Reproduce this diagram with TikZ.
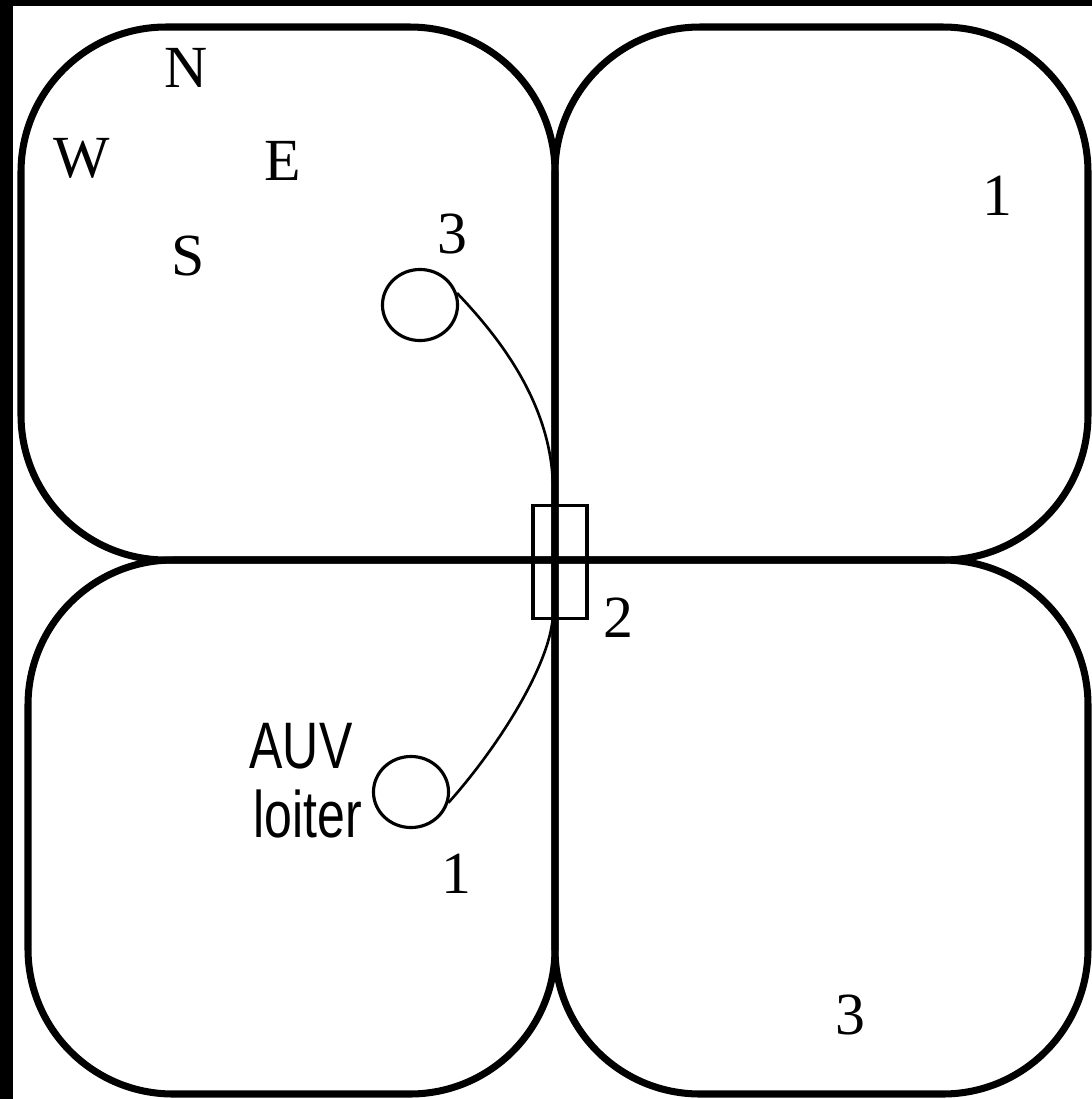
\documentclass[tikz,border=0pt]{standalone}
\usepackage{fontspec}
\setmainfont{Liberation Serif}
\newfontfamily\auvfont[FakeStretch=0.76]{Liberation Sans}
\usetikzlibrary{shapes.geometric}
\tikzset{
  cell/.style={draw=black, line width=2pt, rounded corners=1.45cm},
  gate/.style={draw=black, line width=0.9pt, minimum width=0.54cm, minimum height=1.13cm, inner sep=0pt},
  loiter/.style={ellipse, draw=black, line width=0.9pt, minimum width=0.75cm, minimum height=0.71cm, inner sep=0pt},
  track/.style={draw=black, line width=0.75pt},
  lbl/.style={font=\fontsize{17}{20}\selectfont, inner sep=0pt, anchor=base},
  note/.style={font=\auvfont\fontsize{18.7}{22}\selectfont, inner sep=0pt, anchor=base},
}

\begin{document}
\begin{tikzpicture}[x=0.01cm, y=-0.01cm]
  \useasboundingbox (0,0) rectangle (1092,1099);
  \fill[black] (0,0) rectangle (1092,1099);
  \fill[white] (13,6) rectangle (1092,1099);
  % four cells, sharp corner at the centre
  \draw[cell] (555,560) -- (555,27) -- (21,27) -- (21,560) -- (555,560);
  \draw[cell] (555,560) -- (555,27) -- (1088,27) -- (1088,560) -- (555,560);
  \draw[cell] (555,560) -- (555,1094) -- (28,1094) -- (28,560) -- (555,560);
  \draw[cell] (555,560) -- (555,1094) -- (1088,1094) -- (1088,560) -- (555,560);

  \node[gate] (gate) at (560,562) {};
  \node[loiter] (loitA) at (420,305) {};
  \node[loiter] (loitB) at (411,792) {};
  \draw[track] (loitA.18) .. controls (492,330) and (553,400) .. (553,490)
    -- (553,612) .. controls (553,660) and (500,745) .. (loitB.-16);

  \node[lbl] (north) at (186,87) {N};
  \node[lbl] (west) at (82,177) {W};
  \node[lbl] (east) at (283,180) {E};
  \node[lbl] (south) at (188,275) {S};
  \node[lbl] (wpA) at (452,253) {3};
  \node[lbl] (wpB) at (997,215) {1};
  \node[lbl] (wpC) at (618,637) {2};
  \node[lbl] (wpD) at (456,893) {1};
  \node[lbl] (wpE) at (850,1034) {3};
  \node[note] (auv) at (301,768) {AUV};
  \node[note] (loit) at (308,837) {loiter};
\end{tikzpicture}
\end{document}
